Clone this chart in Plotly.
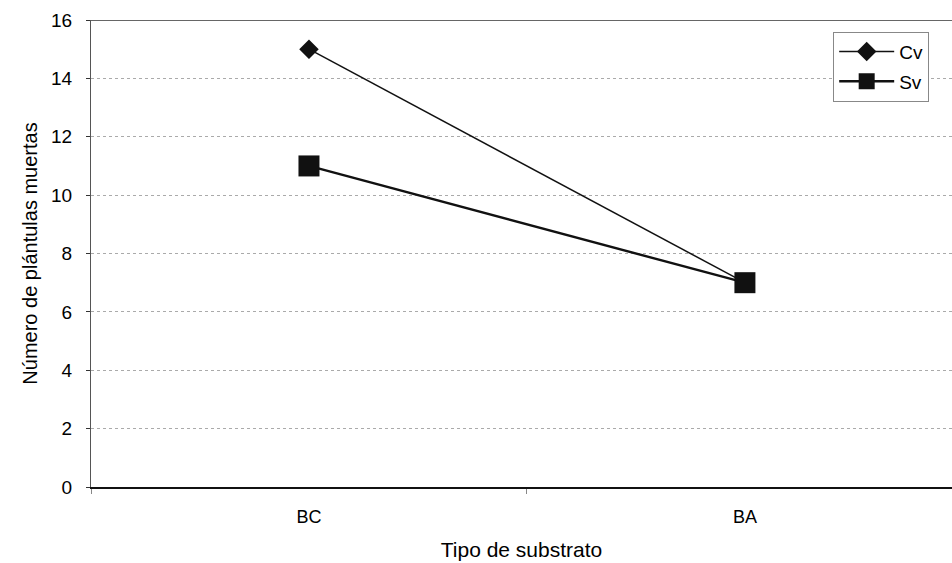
import plotly.graph_objects as go

categories = ["BC", "BA"]
cv_values = [15, 7]
sv_values = [11, 7]
y_ticks = [0, 2, 4, 6, 8, 10, 12, 14, 16]

FONT = "Liberation Sans, Arial, sans-serif"

fig = go.Figure()
fig.add_trace(go.Scatter(
    x=categories, y=cv_values, name="Cv", mode="lines+markers", legendgroup="cv",
    line=dict(color="#111111", width=1.5),
    marker=dict(symbol="diamond", size=15, color="#111111"),
))
fig.add_trace(go.Scatter(
    x=categories, y=sv_values, name="Sv", mode="lines+markers", legendgroup="sv",
    line=dict(color="#111111", width=2.4),
    marker=dict(symbol="square", size=21, color="#111111"),
))

# top border line at max of axis
fig.add_shape(type="line", xref="paper", yref="y", x0=0, x1=1, y0=16, y1=16,
              line=dict(color="#333333", width=1.5))

fig.update_layout(
    width=952, height=563,
    margin=dict(l=91, r=0, t=20, b=76),
    paper_bgcolor="white", plot_bgcolor="white",
    font=dict(family=FONT, color="#000000", size=18),
    showlegend=True,
    legend=dict(
        x=0.862, y=0.975, xanchor="left", yanchor="top",
        bordercolor="#888888", borderwidth=1, bgcolor="white",
        font=dict(size=19, family=FONT, color="#000000"),
        itemwidth=55, tracegroupgap=2,
    ),
    xaxis=dict(
        type="category", range=[-0.5, 1.475],
        showgrid=False, showline=True, linecolor="#111111", linewidth=2,
        ticks="outside", ticklen=5, tickcolor="#888888", tickson="boundaries",
        ticklabelstandoff=12,
        tickfont=dict(size=18, family=FONT),
        title=dict(text="Tipo de substrato", font=dict(size=21, family=FONT), standoff=17),
        zeroline=False,
    ),
    yaxis=dict(
        range=[0, 16], tickvals=y_ticks,
        showgrid=True, gridcolor="#aaaaaa", griddash="dot", gridwidth=1,
        showline=True, linecolor="#555555", linewidth=1,
        ticks="outside", ticklen=4, tickcolor="#333333",
        ticklabelstandoff=10,
        tickfont=dict(size=19, family=FONT),
        title=dict(text="Número de plántulas muertas", font=dict(size=20, family=FONT), standoff=8),
        zeroline=False,
    ),
)

fig.write_html("out.html")
